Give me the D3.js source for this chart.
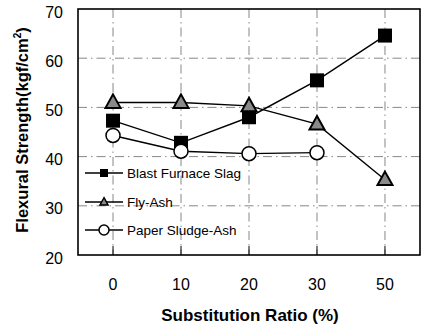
<!DOCTYPE html>
<html>
<head>
<meta charset="utf-8">
<script src="https://cdn.jsdelivr.net/npm/d3@7"></script>
<style>
  html, body { margin: 0; padding: 0; background: #fff; }
  svg { display: block; font-family: 'Liberation Sans', Arial, sans-serif; }
</style>
</head>
<body>
<div id="chart"></div>
<script>
const categories = ['0', '10', '20', '30', '50'];
const slagValues = [47.3, 42.8, 48.0, 55.5, 64.6];
const flyAshValues = [51.0, 51.0, 50.3, 46.6, 35.3];
const sludgeValues = [44.3, 41.1, 40.6, 40.8];
const yTicks = [20, 30, 40, 50, 60, 70];

const series = [
  { name: 'Blast Furnace Slag', values: slagValues, shape: 'square' },
  { name: 'Fly-Ash', values: flyAshValues, shape: 'triangle' },
  { name: 'Paper Sludge-Ash', values: sludgeValues, shape: 'circle' }
];

const width = 432, height = 329;
const box = { left: 78, right: 420, top: 9, bottom: 255 };

const svg = d3.select('#chart').append('svg')
  .attr('width', width)
  .attr('height', height);

const x = d3.scalePoint()
  .domain(categories)
  .range([box.left, box.right])
  .padding(0.515);

const y = d3.scaleLinear()
  .domain([20, 70])
  .range([box.bottom, box.top]);

// grid (dash-dot)
const grid = svg.append('g')
  .attr('stroke', '#555')
  .attr('stroke-width', 0.7)
  .attr('stroke-dasharray', '9,4,1.5,4');

grid.selectAll('line.h')
  .data(yTicks.filter((t) => t > 20 && t < 70))
  .enter()
  .append('line')
  .attr('class', 'h')
  .attr('x1', box.left)
  .attr('x2', box.right)
  .attr('y1', (d) => y(d))
  .attr('y2', (d) => y(d));

grid.selectAll('line.v')
  .data(categories)
  .enter()
  .append('line')
  .attr('class', 'v')
  .attr('x1', (d) => x(d))
  .attr('x2', (d) => x(d))
  .attr('y1', box.top)
  .attr('y2', box.bottom);

// small ticks at bottom
svg.append('g')
  .selectAll('line')
  .data(categories)
  .enter()
  .append('line')
  .attr('x1', (d) => x(d))
  .attr('x2', (d) => x(d))
  .attr('y1', box.bottom)
  .attr('y2', box.bottom - 9)
  .attr('stroke', '#000')
  .attr('stroke-width', 1);

// frame
svg.append('rect')
  .attr('x', box.left)
  .attr('y', box.top)
  .attr('width', box.right - box.left)
  .attr('height', box.bottom - box.top)
  .attr('fill', 'none')
  .attr('stroke', '#000')
  .attr('stroke-width', 1.6);

// y tick labels
svg.append('g')
  .selectAll('text')
  .data(yTicks)
  .enter()
  .append('text')
  .attr('x', 63)
  .attr('y', (d) => y(d) + 3)
  .attr('text-anchor', 'end')
  .attr('dominant-baseline', 'central')
  .attr('font-size', '16px')
  .text((d) => d);

// x tick labels
svg.append('g')
  .selectAll('text')
  .data(categories)
  .enter()
  .append('text')
  .attr('x', (d) => x(d))
  .attr('y', 284)
  .attr('text-anchor', 'middle')
  .attr('dominant-baseline', 'central')
  .attr('font-size', '16px')
  .text((d) => d);

// axis titles
svg.append('text')
  .attr('x', 250)
  .attr('y', 321)
  .attr('text-anchor', 'middle')
  .attr('font-size', '17px')
  .attr('font-weight', 'bold')
  .text('Substitution Ratio (%)');

const yTitle = svg.append('text')
  .attr('transform', 'translate(28,130) rotate(-90)')
  .attr('text-anchor', 'middle')
  .attr('font-size', '16.5px')
  .attr('font-weight', 'bold');
yTitle.append('tspan').text('Flexural Strength(kgf/cm');
yTitle.append('tspan').attr('font-size', '10px').attr('dy', -7).text('2');
yTitle.append('tspan').attr('dy', 7).text(')');

function drawMarker(g, shape, cx, cy, s, sw) {
  if (shape === 'square') {
    g.append('rect')
      .attr('x', cx - s / 2)
      .attr('y', cy - s / 2)
      .attr('width', s)
      .attr('height', s)
      .attr('fill', '#000');
  } else if (shape === 'triangle') {
    const h = s * 0.9;
    g.append('path')
      .attr('d', `M${cx},${cy - h * 0.6}L${cx + s / 2},${cy + h * 0.4}L${cx - s / 2},${cy + h * 0.4}Z`)
      .attr('fill', '#8a8a8a')
      .attr('stroke', '#000')
      .attr('stroke-width', sw);
  } else {
    g.append('circle')
      .attr('cx', cx)
      .attr('cy', cy)
      .attr('r', s / 2)
      .attr('fill', '#fff')
      .attr('stroke', '#000')
      .attr('stroke-width', 1.5);
  }
}

const line = d3.line()
  .x((d, i) => x(categories[i]))
  .y((d) => y(d));

series.forEach((s) => {
  svg.append('path')
    .datum(s.values)
    .attr('d', line)
    .attr('fill', 'none')
    .attr('stroke', '#000')
    .attr('stroke-width', 1.4);
});

['square', 'circle', 'triangle'].forEach((shape) => {
  const s = series.find((d) => d.shape === shape);
  const g = svg.append('g');
  const size = shape === 'square' ? 14 : shape === 'triangle' ? 15 : 14;
  s.values.forEach((v, i) => drawMarker(g, shape, x(categories[i]), y(v), size, 2));
});

// legend
const legendY = [173, 202, 230];
const legend = svg.append('g');
series.forEach((s, i) => {
  const ly = legendY[i];
  legend.append('line')
    .attr('x1', 85)
    .attr('x2', 123)
    .attr('y1', ly)
    .attr('y2', ly)
    .attr('stroke', '#000')
    .attr('stroke-width', 1.4);
  const size = s.shape === 'square' ? 8 : s.shape === 'triangle' ? 8 : 10;
  drawMarker(legend, s.shape, 104, ly, size, 1.5);
  legend.append('text')
    .attr('x', 127)
    .attr('y', ly)
    .attr('dominant-baseline', 'central')
    .attr('font-size', '13.5px')
    .text(s.name);
});
</script>
</body>
</html>
